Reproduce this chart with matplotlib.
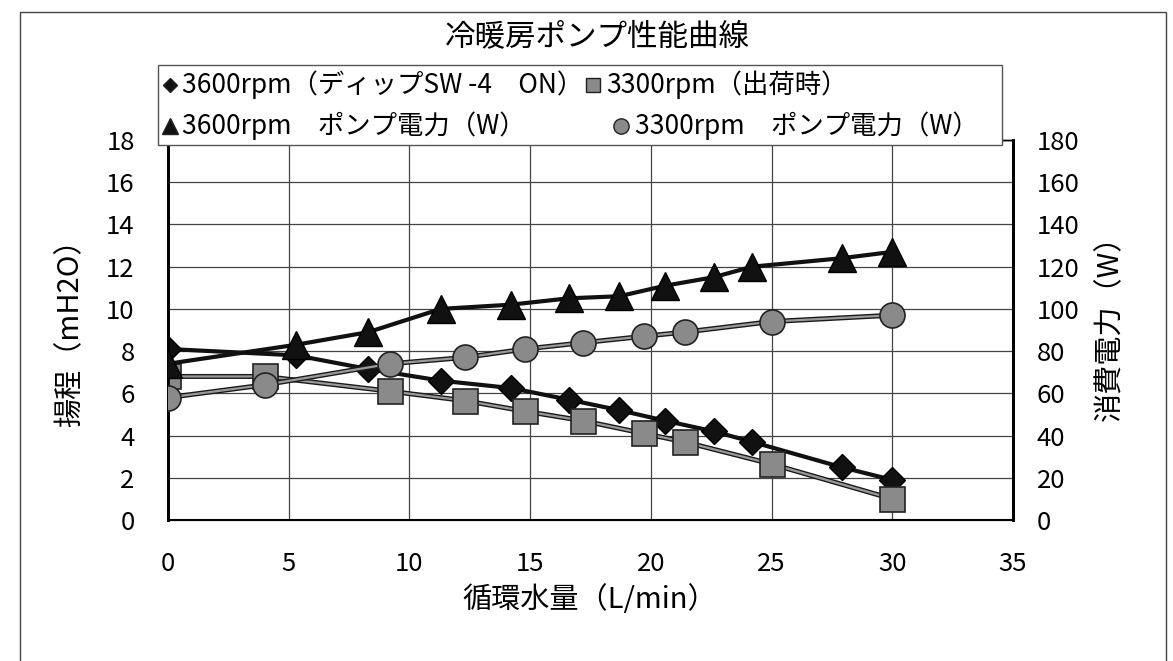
import matplotlib
matplotlib.use('Agg')
import matplotlib.pyplot as plt
import matplotlib.patheffects as pe
from matplotlib.patches import Rectangle
from matplotlib.lines import Line2D

plt.rcParams['font.family'] = ['Noto Sans CJK JP', 'DejaVu Sans']

# 3600rpm (dip SW-4 ON)
flow_3600 = [0, 5.3, 8.3, 11.3, 14.2, 16.6, 18.7, 20.6, 22.6, 24.2, 27.9, 30.0]
head_3600 = [8.1, 7.8, 7.15, 6.6, 6.25, 5.7, 5.2, 4.7, 4.2, 3.7, 2.5, 1.9]
power_3600 = [74, 83, 89, 100, 102, 105, 106, 111, 115, 120, 124, 127]

# 3300rpm (factory setting)
flow_3300 = [0, 4.0, 9.2, 12.3, 14.8, 17.2, 19.7, 21.4, 25.0, 30.0]
head_3300 = [6.8, 6.8, 6.1, 5.65, 5.15, 4.7, 4.1, 3.7, 2.65, 1.0]
power_3300 = [58, 64, 74, 77, 81, 84, 87, 89, 94, 97]

legend_labels = ['3600rpm（ディップSW -4　ON）', '3300rpm（出荷時）',
                 '3600rpm　ポンプ電力（W）', '3300rpm　ポンプ電力（W）']

W, H = 1173, 661
fig = plt.figure(figsize=(W / 100, H / 100), dpi=100, facecolor='white')


def fx(px):
    return px / W


def fy(py):
    return 1 - py / H


ax = fig.add_axes([fx(168), fy(520), fx(1013) - fx(168), fy(140) - fy(520)])
ax2 = ax.twinx()

ax.set_xlim(0, 35)
ax.set_ylim(0, 18)
ax2.set_ylim(0, 180)
ax.set_xticks(range(0, 36, 5))
ax.set_yticks(range(0, 19, 2))
ax2.set_yticks(range(0, 181, 20))

ax.grid(True, color='#444444', linewidth=0.9)
ax.set_axisbelow(True)

ax.tick_params(axis='x', length=0, pad=22, labelsize=18.5)
ax.tick_params(axis='y', length=0, pad=24, labelsize=18.5)
ax2.tick_params(axis='y', length=0, pad=17, labelsize=18.5)

for sp in ['left', 'right']:
    ax.spines[sp].set_linewidth(2)
    ax2.spines[sp].set_linewidth(2)
ax.spines['bottom'].set_linewidth(1.5)
ax.spines['top'].set_linewidth(1)
ax2.spines['top'].set_linewidth(1)

gray_edge = [pe.Stroke(linewidth=3.6, foreground='#1a1a1a'), pe.Normal()]

# head curves
ax.plot(flow_3600, head_3600, color='#111111', linewidth=3, zorder=3)
ax.plot(flow_3600, head_3600, linestyle='none', marker='D', markersize=13,
        markerfacecolor='#111111', markeredgecolor='#000000', zorder=4)
ax.plot(flow_3300, head_3300, color='#9a9a9a', linewidth=1.6,
        path_effects=gray_edge, zorder=3)
ax.plot(flow_3300, head_3300, linestyle='none', marker='s', markersize=18,
        markerfacecolor='#8a8a8a', markeredgecolor='#222222',
        markeredgewidth=1.2, zorder=4)

# power curves (secondary axis)
ax2.plot(flow_3600, power_3600, color='#111111', linewidth=3, zorder=3)
ax2.plot(flow_3600, power_3600, linestyle='none', marker='^', markersize=20,
         markerfacecolor='#111111', markeredgecolor='#000000', zorder=4)
ax2.plot(flow_3300, power_3300, color='#9a9a9a', linewidth=1.6,
         path_effects=gray_edge, zorder=3)
ax2.plot(flow_3300, power_3300, linestyle='none', marker='o', markersize=18,
         markerfacecolor='#8a8a8a', markeredgecolor='#222222',
         markeredgewidth=1.2, zorder=4)

# texts
fig.text(fx(597), fy(37), '冷暖房ポンプ性能曲線', fontsize=22,
         ha='center', va='center')
fig.text(fx(70), fy(326), '揚程（mH2O）', fontsize=21, rotation=90,
         ha='center', va='center')
fig.text(fx(1110), fy(321), '消費電力（W）', fontsize=21, rotation=90,
         ha='center', va='center')
fig.text(fx(590), fy(600), '循環水量（L/min）', fontsize=21,
         ha='center', va='center')

# legend box drawn by hand to follow the original's uneven columns
fig.add_artist(Rectangle((fx(158), fy(145)), fx(1002) - fx(158), fy(65) - fy(145),
                         transform=fig.transFigure, facecolor='white',
                         edgecolor='#555555', linewidth=1, zorder=10))
leg_items = [
    ('D', 7, '#111111', 170, 85, 182),
    ('s', 10, '#8a8a8a', 593, 85, 606),
    ('^', 11, '#111111', 170, 126, 182),
    ('o', 11, '#8a8a8a', 621, 126, 635),
]
for (mk, ms, fc, mx, my, tx), lab in zip(leg_items, legend_labels):
    fig.add_artist(Line2D([fx(mx)], [fy(my)], transform=fig.transFigure,
                          marker=mk, markersize=ms, markerfacecolor=fc,
                          markeredgecolor='#222222', linestyle='none', zorder=11))
    fig.text(fx(tx), fy(my), lab, fontsize=19, ha='left', va='center', zorder=11)

# outer chart frame
fig.add_artist(Rectangle((fx(20), -0.05), fx(1166) - fx(20), fy(12) + 0.05,
                         transform=fig.transFigure, facecolor='none',
                         edgecolor='#444444', linewidth=1, zorder=12))

fig.savefig('out.png', dpi=100, facecolor='white')
